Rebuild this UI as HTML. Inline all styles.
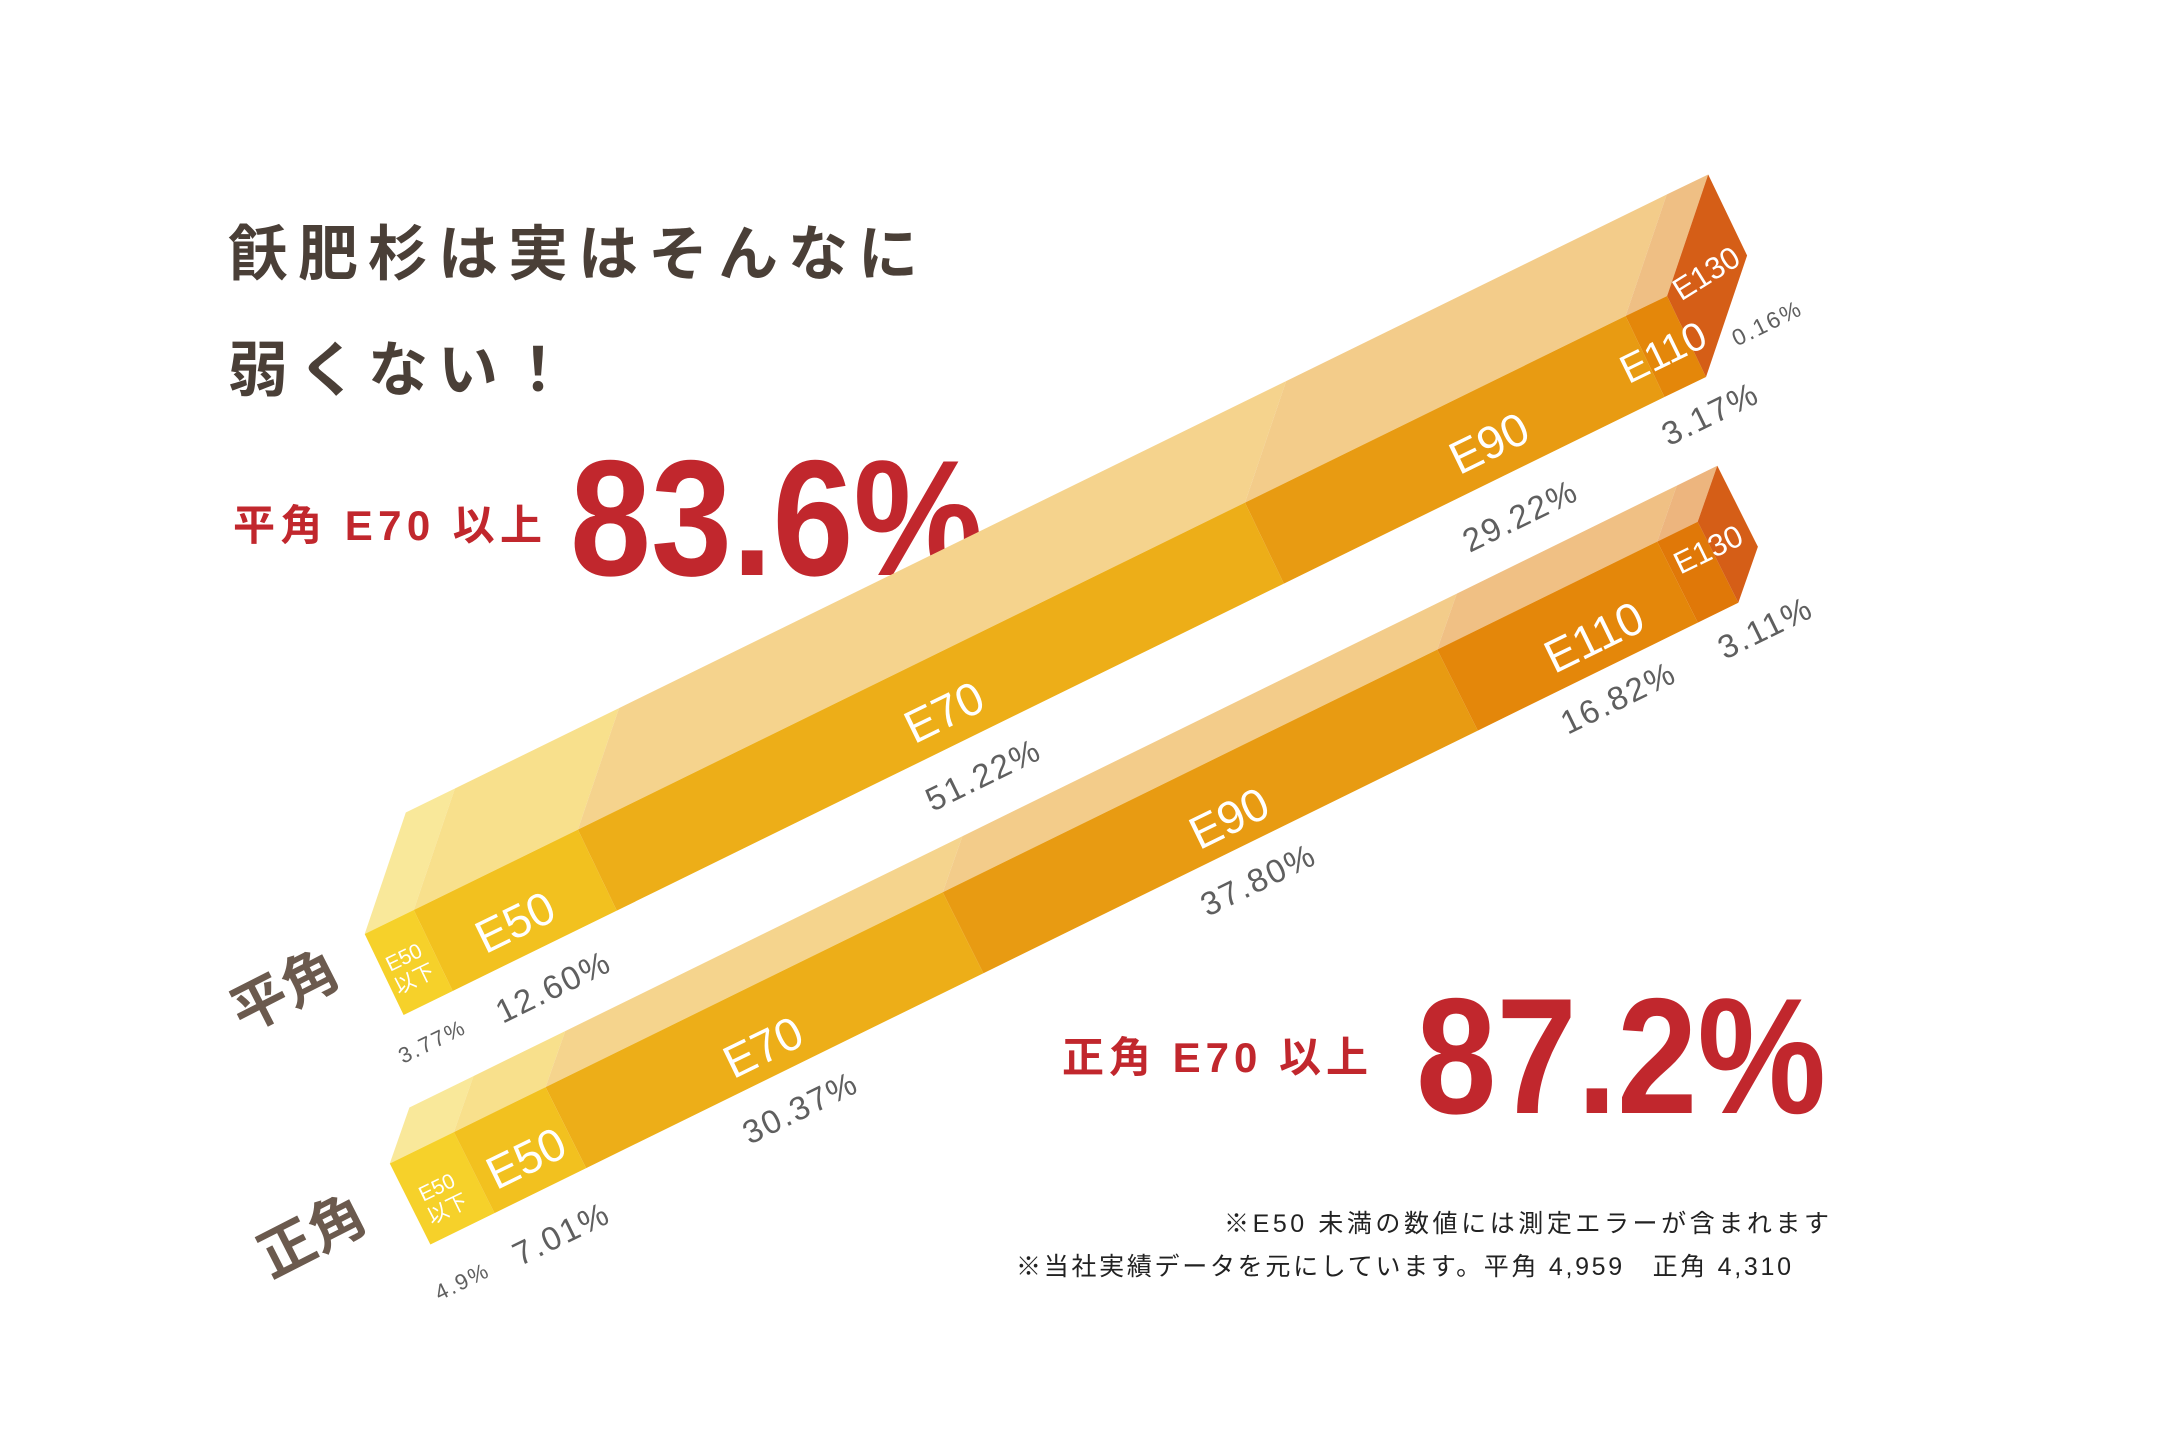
<!DOCTYPE html>
<html><head><meta charset="utf-8"><style>
html,body{margin:0;padding:0;background:#fff;}
svg{display:block}
text{font-family:"Liberation Sans","Noto Sans CJK JP",sans-serif;}
</style></head><body>
<svg width="2160" height="1440" viewBox="0 0 2160 1440" xmlns="http://www.w3.org/2000/svg">
<rect width="2160" height="1440" fill="#fff"/>
<!-- Title -->
<text x="228" y="275" font-size="60" font-weight="bold" fill="#4a3f37" letter-spacing="10">飫肥杉は実はそんなに</text>
<text x="228" y="391" font-size="60" font-weight="bold" fill="#4a3f37" letter-spacing="10">弱くない！</text>
<text x="233" y="540" font-size="42" font-weight="bold" fill="#c1272d" textLength="309" lengthAdjust="spacing">平角 E70 以上</text>
<text x="570" y="575" font-size="165" font-weight="bold" fill="#c1272d" textLength="413" lengthAdjust="spacingAndGlyphs">83.6%</text>
<text x="1062" y="1072" font-size="42" font-weight="bold" fill="#c1272d" textLength="306" lengthAdjust="spacing">正角 E70 以上</text>
<text x="1416" y="1113" font-size="165" font-weight="bold" fill="#c1272d" textLength="410" lengthAdjust="spacingAndGlyphs">87.2%</text>
<text x="1224" y="1232" font-size="25" fill="#222" textLength="605" lengthAdjust="spacing">※E50 未満の数値には測定エラーが含まれます</text>
<text x="1016" y="1275" font-size="25" fill="#222" textLength="775" lengthAdjust="spacing">※当社実績データを元にしています。平角 4,959　正角 4,310</text>

<!-- Top bar (平角) -->
<g>
<polygon points="364.7,934 413.8,910 454.9,788.5 405.8,812.5" fill="#f9e89a"/>
<polygon points="413.8,910 577.9,829.6 619,708.1 454.9,788.5" fill="#f8e08c"/>
<polygon points="577.9,829.6 1245,502.6 1286.1,381.1 619,708.1" fill="#f5d38d"/>
<polygon points="1245,502.6 1625.6,316 1666.7,194.5 1286.1,381.1" fill="#f3cc8a"/>
<polygon points="1625.6,316 1667.1,296 1708.2,174.5 1666.7,194.5" fill="#efbf84"/>
<polygon points="403.6,1015 452.7,991 413.8,910 364.7,934" fill="#f6d12a"/>
<polygon points="452.7,991 616.8,910.6 577.9,829.6 413.8,910" fill="#f2c11f"/>
<polygon points="616.8,910.6 1283.9,583.6 1245,502.6 577.9,829.6" fill="#edae18"/>
<polygon points="1283.9,583.6 1664.5,397 1625.6,316 1245,502.6" fill="#e89b12"/>
<polygon points="1664.5,397 1706,377 1667.1,296 1625.6,316" fill="#e4870a"/>
<polygon points="1706,377 1667.1,296 1708.2,174.5 1747.1,255.5" fill="#d55e17"/>
</g>
<!-- Bottom bar (正角) -->
<g>
<polygon points="389.8,1163.5 453.9,1132.1 473.5,1076.1 409.4,1107.5" fill="#f9e89a"/>
<polygon points="453.9,1132.1 545.6,1087.1 565.2,1031.1 473.5,1076.1" fill="#f8e08c"/>
<polygon points="545.6,1087.1 942.8,892.2 962.4,836.2 565.2,1031.1" fill="#f5d48d"/>
<polygon points="942.8,892.2 1437.2,649.6 1456.8,593.6 962.4,836.2" fill="#f3cc8a"/>
<polygon points="1437.2,649.6 1657.2,541.6 1676.8,485.6 1456.8,593.6" fill="#f0c084"/>
<polygon points="1657.2,541.6 1697.7,521.7 1717.3,465.7 1676.8,485.6" fill="#edb57e"/>
<polygon points="430.4,1244.5 494.5,1213.1 453.9,1132.1 389.8,1163.5" fill="#f6d12a"/>
<polygon points="494.5,1213.1 586.2,1168.1 545.6,1087.1 453.9,1132.1" fill="#f2c11f"/>
<polygon points="586.2,1168.1 983.4,973.2 942.8,892.2 545.6,1087.1" fill="#edae18"/>
<polygon points="983.4,973.2 1477.8,730.6 1437.2,649.6 942.8,892.2" fill="#e89b12"/>
<polygon points="1477.8,730.6 1697.8,622.6 1657.2,541.6 1437.2,649.6" fill="#e4870a"/>
<polygon points="1697.8,622.6 1738.3,602.7 1697.7,521.7 1657.2,541.6" fill="#e07808"/>
<polygon points="1738.3,602.7 1697.7,521.7 1717.3,465.7 1757.9,546.7" fill="#d55e17"/>
</g>

<!-- Side labels -->
<text x="285" y="1010" font-size="56" font-weight="bold" fill="#6b5a4e" text-anchor="middle" transform="rotate(-27 285 991)">平角</text>
<text x="312" y="1255" font-size="56" font-weight="bold" fill="#6b5a4e" text-anchor="middle" transform="rotate(-27 312 1236)">正角</text>

<!-- Top bar labels -->
<g fill="#fff" text-anchor="middle">
<text x="410" y="963" font-size="21" transform="rotate(-26 410 970)">E50</text>
<text x="410" y="987" font-size="21" transform="rotate(-26 410 970)">以下</text>
<text x="515" y="938" font-size="46" transform="rotate(-26 515 922)">E50</text>
<text x="944" y="728" font-size="46" transform="rotate(-26 944 712)">E70</text>
<text x="1489" y="459" font-size="46" transform="rotate(-26 1489 443)">E90</text>
<text x="1663" y="366" font-size="40" transform="rotate(-26 1663 352)">E110</text>
<text x="1706" y="284" font-size="31" transform="rotate(-32 1706 273)">E130</text>
</g>
<g fill="#5f5f5f" text-anchor="middle" letter-spacing="2">
<text x="432" y="1049" font-size="22" transform="rotate(-26 432 1041)">3.77%</text>
<text x="553" y="998" font-size="33" transform="rotate(-26 553 986)">12.60%</text>
<text x="983" y="786" font-size="33" transform="rotate(-26 983 774)">51.22%</text>
<text x="1520" y="527" font-size="33" transform="rotate(-26 1520 515)">29.22%</text>
<text x="1710" y="425" font-size="33" transform="rotate(-26 1710 413)">3.17%</text>
<text x="1767" y="331" font-size="23" transform="rotate(-26 1767 323)">0.16%</text>
</g>
<!-- Bottom bar labels -->
<g fill="#fff" text-anchor="middle">
<text x="443" y="1193" font-size="21" transform="rotate(-26 443 1200)">E50</text>
<text x="443" y="1217" font-size="21" transform="rotate(-26 443 1200)">以下</text>
<text x="526" y="1174" font-size="46" transform="rotate(-26 526 1158)">E50</text>
<text x="763" y="1063" font-size="46" transform="rotate(-26 763 1047)">E70</text>
<text x="1229" y="834" font-size="46" transform="rotate(-26 1229 818)">E90</text>
<text x="1594" y="653" font-size="46" transform="rotate(-26 1594 637)">E110</text>
<text x="1708" y="560" font-size="31" transform="rotate(-26 1708 549)">E130</text>
</g>
<g fill="#5f5f5f" text-anchor="middle" letter-spacing="2">
<text x="462" y="1289" font-size="22" transform="rotate(-26 462 1281)">4.9%</text>
<text x="561" y="1245" font-size="33" transform="rotate(-26 561 1233)">7.01%</text>
<text x="800" y="1119" font-size="33" transform="rotate(-26 800 1107)">30.37%</text>
<text x="1258" y="891" font-size="33" transform="rotate(-26 1258 879)">37.80%</text>
<text x="1618" y="709" font-size="33" transform="rotate(-26 1618 697)">16.82%</text>
<text x="1765" y="639" font-size="33" transform="rotate(-26 1765 627)">3.11%</text>
</g>
</svg>
</body></html>
